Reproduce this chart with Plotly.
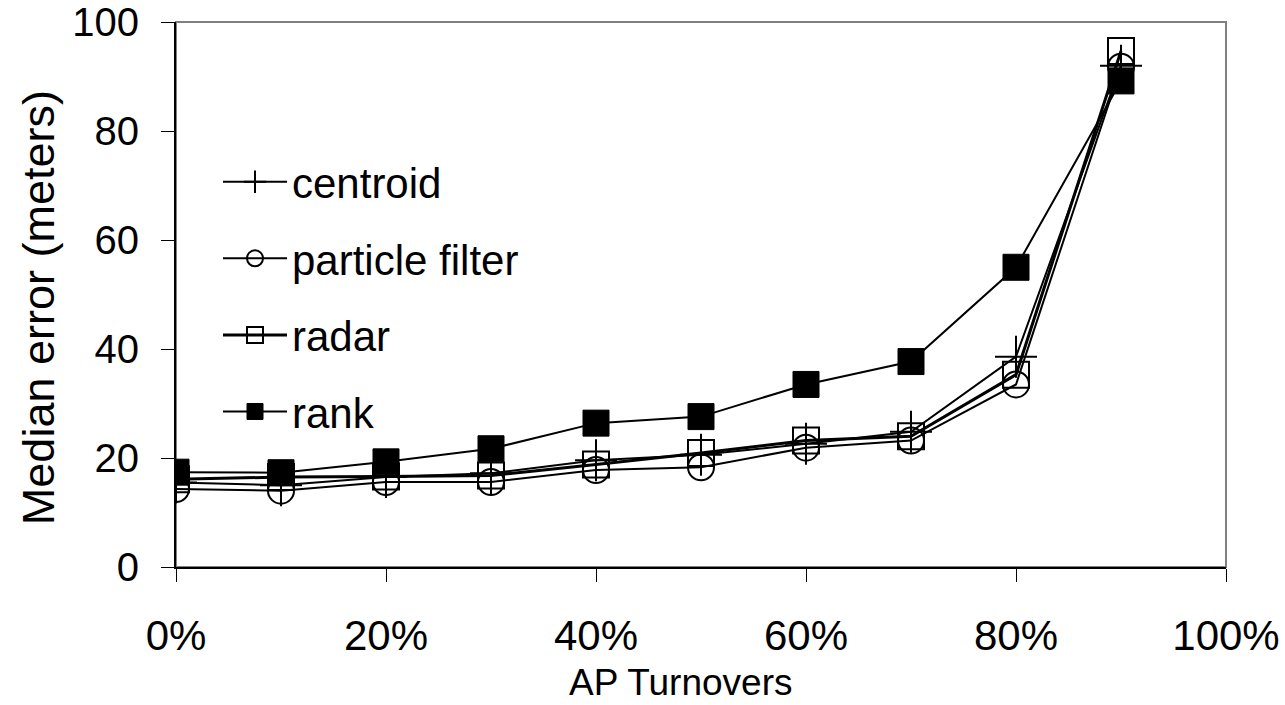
import plotly.graph_objects as go

turnover = [0, 10, 20, 30, 40, 50, 60, 70, 80, 90]
centroid = [15.5, 15.0, 16.5, 17.2, 19.6, 20.6, 22.6, 24.8, 38.6, 92.0]
particle = [14.3, 14.0, 15.6, 15.6, 17.8, 18.3, 21.9, 23.2, 33.5, 91.8]
radar = [16.1, 16.5, 16.6, 16.8, 18.8, 20.9, 23.2, 24.0, 35.3, 94.7]
rank = [17.4, 17.3, 19.3, 21.7, 26.4, 27.6, 33.5, 37.7, 55.0, 89.2]

x_ticks = [0, 20, 40, 60, 80, 100]
x_labels = ["0%", "20%", "40%", "60%", "80%", "100%"]
y_ticks = [0, 20, 40, 60, 80, 100]

FONT = "Liberation Sans, Arial, sans-serif"

fig = go.Figure()
series = [
    ("centroid", centroid, dict(symbol="cross-thin", size=30, color="black",
                                line=dict(color="black", width=2)), 2),
    ("particle filter", particle, dict(symbol="circle-open", size=26, color="black",
                                       line=dict(color="black", width=2)), 2),
    ("radar", radar, dict(symbol="square-open", size=26, color="black",
                          line=dict(color="black", width=2)), 3),
    ("rank", rank, dict(symbol="square", size=26, color="black",
                        line=dict(color="black", width=1)), 2),
]
for i, (name, vals, marker, lw) in enumerate(series):
    fig.add_trace(go.Scatter(
        x=turnover, y=vals, name=name, mode="lines+markers",
        line=dict(color="black", width=lw), marker=marker,
        legendgroup=f"g{i}",
    ))

fig.add_shape(type="rect", xref="paper", yref="paper", x0=0, y0=0, x1=1, y1=1,
              line=dict(color="#808080", width=2), layer="below")

fig.add_annotation(text="AP Turnovers", xref="paper", yref="paper",
                   x=0.48, y=-0.212, xanchor="center", yanchor="middle",
                   showarrow=False, font=dict(size=37, family=FONT, color="black"))
fig.add_annotation(text="Median error (meters)", xref="paper", yref="paper",
                   x=-0.1314, y=0.475, xanchor="center", yanchor="middle",
                   textangle=-90, showarrow=False,
                   font=dict(size=45, family=FONT, color="black"))

fig.update_layout(
    width=1285, height=705,
    margin=dict(l=176, r=59, t=22, b=138),
    paper_bgcolor="white", plot_bgcolor="white",
    font=dict(family=FONT, color="black", size=36),
    showlegend=True,
    legend=dict(x=0.04, y=0.769, xanchor="left", yanchor="top",
                bgcolor="rgba(0,0,0,0)", font=dict(size=42, family=FONT),
                tracegroupgap=19, itemwidth=64),
    xaxis=dict(range=[0, 100], tickvals=x_ticks, ticktext=x_labels,
               automargin=False, ticklabeloverflow="allow",
               showgrid=False, zeroline=False, showline=True, linecolor="black",
               linewidth=2, ticks="outside", ticklen=13, tickcolor="black",
               tickwidth=1, tickfont=dict(size=42, family=FONT),
               ticklabelstandoff=18),
    yaxis=dict(range=[0, 100.01], tickvals=y_ticks, automargin=False,
               ticklabeloverflow="allow",
               showgrid=False, zeroline=False, showline=True, linecolor="black",
               linewidth=2, ticks="outside", ticklen=13, tickcolor="black",
               tickwidth=1, tickfont=dict(size=40, family=FONT),
               ticklabelstandoff=14),
)

fig.write_html("out.html")
